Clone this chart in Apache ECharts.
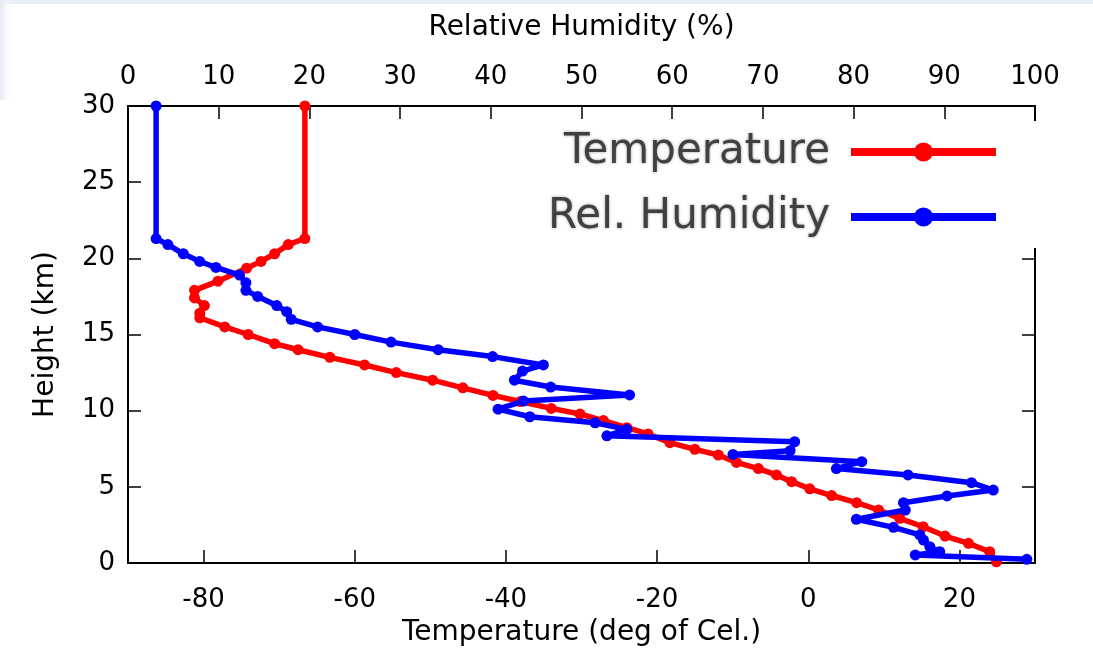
<!DOCTYPE html>
<html>
<head>
<meta charset="utf-8">
<script src="https://cdn.jsdelivr.net/npm/echarts@6/dist/echarts.min.js"></script>
<style>
html,body{margin:0;padding:0;background:#fff;}
#chart{width:1093px;height:658px;}
</style>
</head>
<body>
<div id="chart"></div>
<script>
// Temperature profile (deg C) vs height (km)
const tempValues = [-66.6,-66.6,-68.8,-70.6,-72.4,-74.3,-78.1,-81.2,-81.2,-79.9,-80.5,-80.5,-77.2,-74.1,-70.6,-67.5,-63.3,-58.7,-54.5,-49.7,-45.7,-41.7,-38.1,-34.0,-30.2,-27.1,-24.0,-21.2,-18.3,-15.0,-11.9,-9.5,-6.6,-4.2,-2.2,0.2,3.1,6.4,9.3,12.1,15.2,18.1,21.2,24.0,24.9];
const tempHeights = [30,21.3,20.9,20.3,19.8,19.35,18.5,17.9,17.4,16.9,16.4,16.1,15.5,15.0,14.4,14.0,13.5,13.0,12.5,12.0,11.5,11.0,10.6,10.15,9.78,9.35,8.88,8.47,7.9,7.46,7.09,6.6,6.2,5.78,5.34,4.87,4.43,3.96,3.48,2.93,2.38,1.77,1.29,0.74,0.08];
// Relative humidity profile (%) vs height (km)
const rhValues = [3.1,3.1,4.4,6.1,7.9,9.7,12.3,13.0,13.0,14.3,16.4,17.5,18.0,20.9,25.0,29.0,34.2,40.2,45.8,43.5,42.6,46.6,55.3,43.6,40.8,44.3,51.5,55.0,52.8,73.5,73.0,66.7,80.9,78.1,86.0,93.0,95.4,90.3,85.5,85.7,80.3,84.4,87.3,87.7,88.4,89.5,86.8,99.1];
const rhHeights = [30,21.3,20.9,20.3,19.8,19.4,18.9,18.4,17.9,17.5,16.9,16.5,16.0,15.5,15.0,14.5,14.0,13.55,13.0,12.6,12.0,11.55,11.03,10.63,10.1,9.6,9.2,8.77,8.35,7.96,7.37,7.13,6.65,6.2,5.78,5.27,4.79,4.4,3.96,3.48,2.87,2.34,1.84,1.51,1.07,0.74,0.53,0.24];
const tempTicks = [-80,-60,-40,-20,0,20];
const rhTicks = [0,10,20,30,40,50,60,70,80,90,100];
const heightTicks = [0,5,10,15,20,25,30];
const seriesNames = ['Temperature','Rel. Humidity'];
const axisNames = {temp:'Temperature (deg of Cel.)', rh:'Relative Humidity (%)', height:'Height (km)'};

const tempData = tempValues.map((v,i)=>[v,tempHeights[i]]);
const rhData = rhValues.map((v,i)=>[v,rhHeights[i]]);

const font = 'DejaVu Sans, Liberation Sans, sans-serif';
const lineBlack = {show:true, onZero:false, lineStyle:{color:'#000', width:2}};
const chart = echarts.init(document.getElementById('chart'), null, {renderer:'canvas'});
chart.setOption({
  backgroundColor:'#fff',
  animation:false,
  graphic:[
    {type:'rect', left:0, top:0, shape:{width:1093, height:4}, style:{fill:'#e9eef7'}, silent:true},
    {type:'rect', left:0, top:0, shape:{width:14, height:100}, style:{fill:new echarts.graphic.LinearGradient(0,0,1,0,[{offset:0,color:'#e4e9f3'},{offset:1,color:'rgba(255,255,255,0)'}])}, silent:true}
  ],
  grid:{left:128, right:58, top:106, bottom:95, containLabel:false},
  legend:{
    orient:'vertical', right:48, top:121, align:'right',
    padding:[8,45,8,20], backgroundColor:'#fff',
    itemWidth:145, itemHeight:24, itemGap:19,
    lineStyle:{width:8},
    data:seriesNames,
    textStyle:{fontFamily:'DejaVu Sans, sans-serif', fontSize:42, color:'#404040', lineHeight:46, padding:[0,16,0,0],
      textShadowColor:'rgba(0,0,0,0.4)', textShadowBlur:3}
  },
  xAxis:[
    {type:'value', position:'bottom', min:-90, max:30, interval:10,
     name:axisNames.temp, nameLocation:'middle', nameGap:56,
     nameTextStyle:{fontFamily:font, fontSize:28, color:'#000'},
     axisLine:lineBlack,
     axisTick:{show:true, inside:true, length:13, customValues:tempTicks, lineStyle:{color:'#000', width:1.5}},
     axisLabel:{show:true, customValues:tempTicks, margin:24, fontFamily:font, fontSize:26, color:'#000'},
     splitLine:{show:false}},
    {type:'value', position:'top', min:0, max:100, interval:10,
     name:axisNames.rh, nameLocation:'middle', nameGap:64,
     nameTextStyle:{fontFamily:font, fontSize:28, color:'#000'},
     axisLine:lineBlack,
     axisTick:{show:true, inside:true, length:13, customValues:rhTicks, lineStyle:{color:'#000', width:1.5}},
     axisLabel:{show:true, customValues:rhTicks, margin:16, fontFamily:font, fontSize:26, color:'#000'},
     splitLine:{show:false}}
  ],
  yAxis:[
    {type:'value', position:'left', min:0, max:30, interval:5,
     name:axisNames.height, nameLocation:'middle', nameGap:68, nameRotate:90,
     nameTextStyle:{fontFamily:font, fontSize:28, color:'#000'},
     axisLine:lineBlack,
     axisTick:{show:true, inside:true, length:13, customValues:heightTicks, lineStyle:{color:'#000', width:1.5}},
     axisLabel:{show:true, customValues:heightTicks, margin:13, fontFamily:font, fontSize:26, color:'#000'},
     splitLine:{show:false}},
    {type:'value', position:'right', min:0, max:30, interval:5,
     axisLine:lineBlack,
     axisTick:{show:true, inside:true, length:13, lineStyle:{color:'#000', width:1.5}},
     axisLabel:{show:false},
     splitLine:{show:false}}
  ],
  series:[
    {name:seriesNames[0], type:'line', xAxisIndex:0, yAxisIndex:0, data:tempData,
     symbol:'circle', symbolSize:11, showSymbol:true,
     lineStyle:{color:'#ff0000', width:5.5}, itemStyle:{color:'#ff0000'}, z:3},
    {name:seriesNames[1], type:'line', xAxisIndex:1, yAxisIndex:0, data:rhData,
     symbol:'circle', symbolSize:11, showSymbol:true,
     lineStyle:{color:'#0000ff', width:5.5}, itemStyle:{color:'#0000ff'}, z:4}
  ]
});
</script>
</body>
</html>
